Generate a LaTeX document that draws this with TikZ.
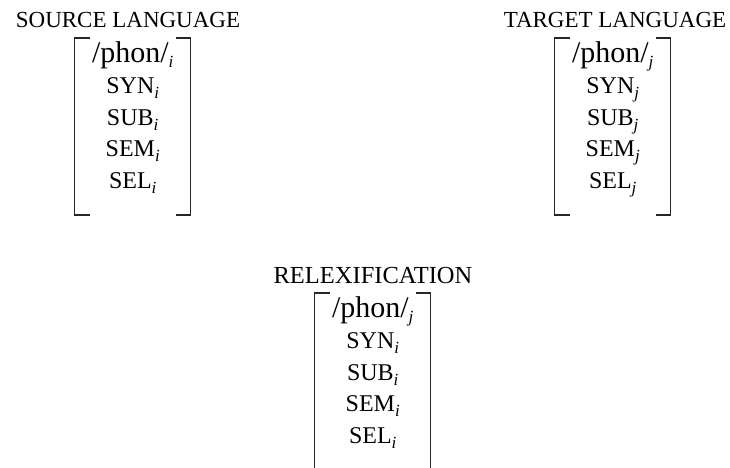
\documentclass[tikz,border=0pt]{standalone}
\usepackage{fontspec}
\setmainfont{Liberation Serif}
\newcommand\subx[1]{\raisebox{-5pt}{\fontsize{17}{17}\selectfont\itshape #1}}
\begin{document}
\begin{tikzpicture}[x=1pt,y=-1pt,
  title/.style={anchor=base, font=\fontsize{23}{25}\selectfont, inner sep=0pt},
  row/.style={anchor=base, font=\fontsize{24}{26}\selectfont, inner sep=0pt},
  phonrow/.style={anchor=base, font=\fontsize{30}{32}\selectfont, inner sep=0pt},
  brk/.style={line width=1.1pt, draw=black!85}]
\useasboundingbox (0,0) rectangle (730,467);

% SOURCE LANGUAGE
\node[title] (st) at (128,27) {SOURCE LANGUAGE};
\node[phonrow] (sp) at (132.7,62) {/phon/\subx{i}};
\node[row] (s1) at (132.7,93) {SYN\subx{i}};
\node[row] (s2) at (132.7,125) {SUB\subx{i}};
\node[row] (s3) at (132.7,156) {SEM\subx{i}};
\node[row] (s4) at (132.7,188) {SEL\subx{i}};
\draw[brk] (89.7,38) -- (74.7,38) -- (74.7,215) -- (89.7,215);
\draw[brk] (175.7,38) -- (190.7,38) -- (190.7,215) -- (175.7,215);

% TARGET LANGUAGE
\node[title] (tt) at (615,27) {TARGET LANGUAGE};
\node[phonrow] (tp) at (612.7,62) {/phon/\subx{j}};
\node[row] (t1) at (612.7,93) {SYN\subx{j}};
\node[row] (t2) at (612.7,125) {SUB\subx{j}};
\node[row] (t3) at (612.7,156) {SEM\subx{j}};
\node[row] (t4) at (612.7,188) {SEL\subx{j}};
\draw[brk] (569.7,38) -- (554.7,38) -- (554.7,215) -- (569.7,215);
\draw[brk] (655.7,38) -- (670.7,38) -- (670.7,215) -- (655.7,215);

% RELEXIFICATION
\node[title, font=\fontsize{24.5}{26}\selectfont] (rt) at (373,283) {RELEXIFICATION};
\node[phonrow] (rp) at (372.7,317) {/phon/\subx{j}};
\node[row] (r1) at (372.7,348) {SYN\subx{i}};
\node[row] (r2) at (372.7,380) {SUB\subx{i}};
\node[row] (r3) at (372.7,411) {SEM\subx{i}};
\node[row] (r4) at (372.7,443) {SEL\subx{i}};
\draw[brk] (329.7,293) -- (314.7,293) -- (314.7,470);
\draw[brk] (415.7,293) -- (430.7,293) -- (430.7,470);
\end{tikzpicture}
\end{document}
